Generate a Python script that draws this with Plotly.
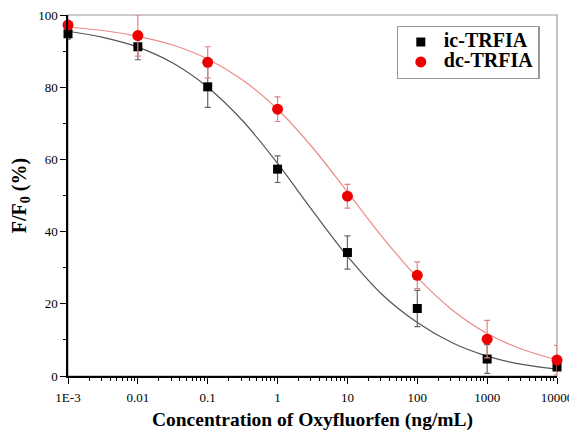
import plotly.graph_objs as go

# measured points (mean +/- sd)
conc = [0.001, 0.01, 0.1, 1, 10, 100, 1000, 10000]
ic_vals = [94.8, 91.2, 80.1, 57.3, 34.2, 18.7, 4.7, 2.5]
ic_err = [1.5, 3.6, 5.7, 3.7, 4.6, 5.0, 4.0, 1.0]
dc_vals = [97.2, 94.3, 86.9, 73.9, 49.8, 27.9, 10.2, 4.4]
dc_err = [1.0, 5.7, 4.3, 3.4, 3.3, 3.7, 5.2, 4.1]

# fitted curves, every half decade
fit_conc = [0.001, 0.00316, 0.01, 0.0316, 0.1, 0.316, 1, 3.16, 10, 31.6, 100, 316, 1000, 3162, 10000]
ic_fit = [95.5, 93.8, 91.1, 86.7, 80.0, 70.7, 58.9, 45.8, 33.2, 22.5, 14.8, 9.2, 5.5, 3.2, 1.9]
dc_fit = [96.6, 95.7, 94.1, 91.7, 87.8, 82.0, 73.9, 63.3, 51.0, 38.5, 27.3, 18.3, 11.8, 7.4, 4.5]

tick_vals = [0.001, 0.01, 0.1, 1, 10, 100, 1000, 10000]
tick_text = ['1E-3', '0.01', '0.1', '1', '10', '100', '1000', '10000']

serif = 'Liberation Serif, Times New Roman, serif'
minor_x = [m * 10 ** e for e in range(-3, 4) for m in range(2, 10)]


def legend_name(s):
    # big bold text, but small legend font so the rows stay close together
    return '<b><span style="font-size:20px">' + s + '</span></b>'


traces = [
    go.Scatter(x=fit_conc, y=ic_fit, mode='lines', line=dict(color='#555555', width=1.2, shape='spline'),
               showlegend=False, hoverinfo='skip'),
    go.Scatter(x=fit_conc, y=dc_fit, mode='lines', line=dict(color='#ec8a8a', width=1.2, shape='spline'),
               showlegend=False, hoverinfo='skip'),
    go.Scatter(x=conc, y=ic_vals, mode='markers', name=legend_name('ic-TRFIA'), cliponaxis=False,
               marker=dict(symbol='square', size=9, color='black'),
               error_y=dict(type='data', array=ic_err, color='#666666', thickness=1.2, width=3)),
    go.Scatter(x=conc, y=dc_vals, mode='markers', name=legend_name('dc-TRFIA'), cliponaxis=False,
               marker=dict(symbol='circle', size=11, color='#ee0000'),
               error_y=dict(type='data', array=dc_err, color='#e88080', thickness=1.2, width=3)),
]

# page body has an 8px margin, so the figure is shifted by 8px inside the window
layout = go.Layout(
    template='none',
    width=569, height=423,
    margin=dict(l=60, r=20, t=7, b=55),
    paper_bgcolor='white', plot_bgcolor='white',
    font=dict(family=serif, size=13, color='black'),
    xaxis=dict(type='log', range=[-3, 4], tickvals=tick_vals, ticktext=tick_text, automargin=False,
               showgrid=False, zeroline=False, showline=True, linecolor='black', linewidth=1.5,
               ticks='outside', ticklen=6, tickwidth=1.2, tickcolor='black', ticklabelstandoff=3,
               ticklabeloverflow='allow',
               minor=dict(tickvals=minor_x, ticks='outside', ticklen=3, tickwidth=1, tickcolor='black'),
               title=dict(text='<b>Concentration of Oxyfluorfen (ng/mL)</b>', font=dict(size=19.5),
                          standoff=17)),
    yaxis=dict(range=[0, 100], tickvals=[0, 20, 40, 60, 80, 100], automargin=False,
               showgrid=False, zeroline=False, showline=True, linecolor='black', linewidth=1.5,
               ticks='outside', ticklen=6, tickwidth=1.2, tickcolor='black', ticklabeloverflow='allow',
               minor=dict(tickvals=[10, 30, 50, 70, 90], ticks='outside', ticklen=3, tickwidth=1,
                          tickcolor='black'),
               title=dict(text='<b>F/F<sub>0</sub> (%)</b>', font=dict(size=20), standoff=20)),
    shapes=[dict(type='rect', xref='paper', yref='paper', x0=0, x1=1, y0=0, y1=1,
                 line=dict(color='#999999', width=1.2), layer='below')],
    legend=dict(x=0.672, y=0.97, xanchor='left', yanchor='top', bgcolor='white',
                bordercolor='#999999', borderwidth=1.2, font=dict(family=serif, size=13), itemwidth=36),
)

fig = go.Figure(data=traces, layout=layout)
fig.write_html('out.html')
